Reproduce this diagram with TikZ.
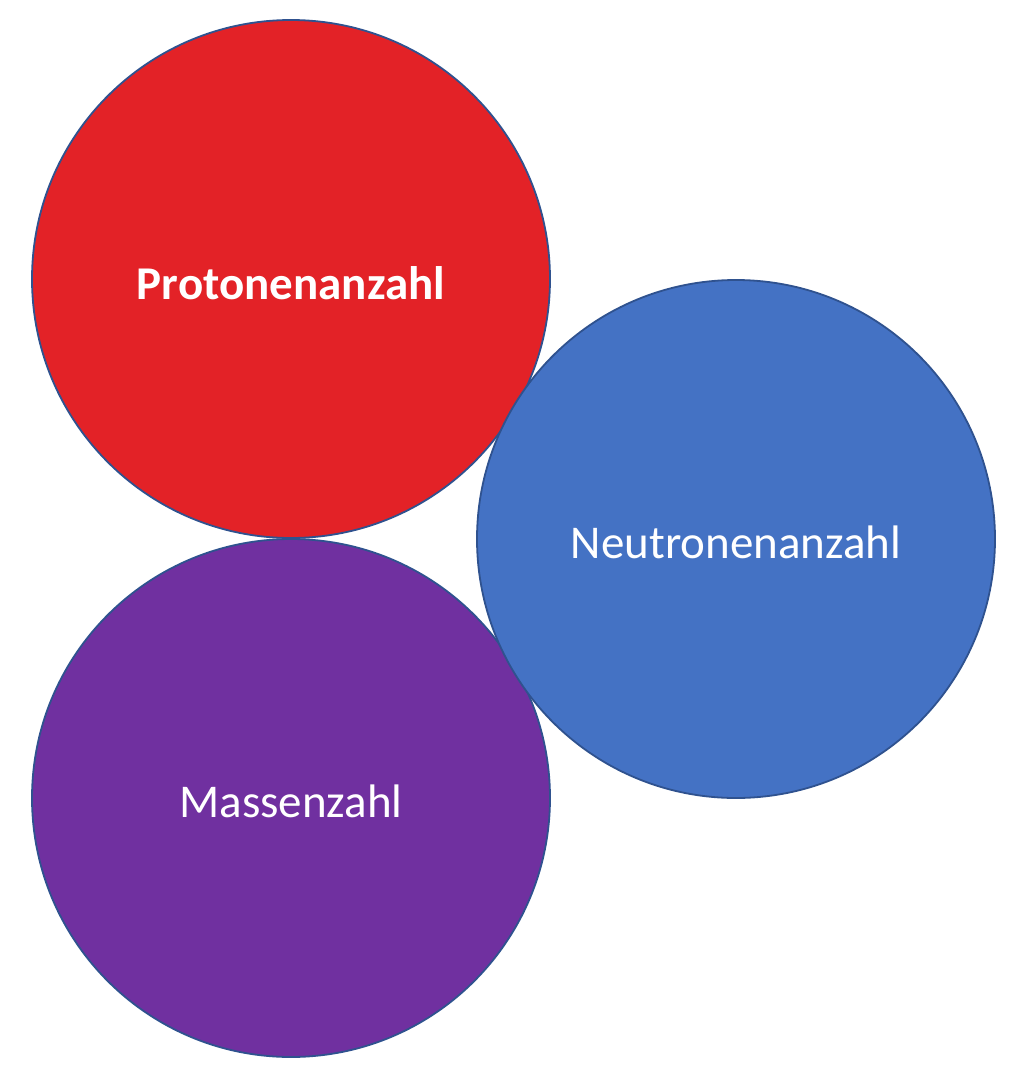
\documentclass[tikz,border=0pt]{standalone}
\usepackage{fontspec}
\setmainfont{Carlito}
\usepackage{xcolor}
\usepackage{tikz}
\usetikzlibrary{positioning}
\definecolor{proton}{HTML}{E32227}
\definecolor{neutron}{HTML}{4472C4}
\definecolor{masse}{HTML}{7030A0}
\definecolor{rim}{HTML}{2F528F}

\begin{document}
\begin{tikzpicture}[
  x=1pt,y=-1pt,
  font=\fontsize{47}{56}\selectfont,
  ball/.style={circle,draw=rim,line width=1.8pt,minimum size=518pt,inner sep=0pt},
  lbl/.style={text=white,align=center}
]
\useasboundingbox (0,0) rectangle (1023,1080);
\node[ball,fill=proton] (p) at (291,279) {};
\node[ball,fill=masse] (m) at (291,798) {};
\node[ball,fill=neutron] (n) at (736,539) {};
\node[lbl] (pt) at ([yshift=-4pt]p.center) {\textbf{Protonenanzahl}};
\node[lbl] (mt) at ([yshift=-3pt]m.center) {Massenzahl};
\node[lbl] (nt) at ([yshift=-3pt]n.center) {Neutronenanzahl};
\end{tikzpicture}
\end{document}
